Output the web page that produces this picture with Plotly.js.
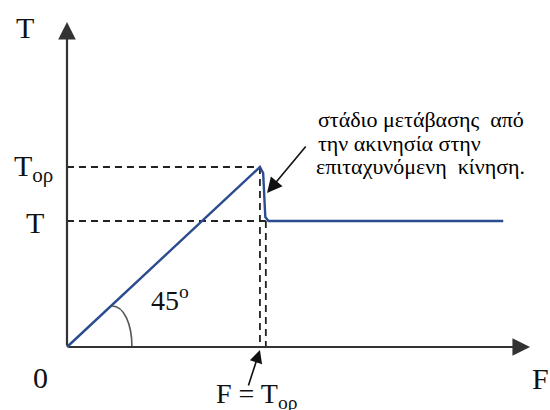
<!DOCTYPE html>
<html>
<head>
<meta charset="utf-8">
<script src="https://cdn.plot.ly/plotly-3.0.1.min.js"></script>
<style>
  html, body { margin: 0; padding: 0; background: #ffffff; }
  #chart { width: 550px; height: 410px; }
</style>
</head>
<body>
<div id="chart"></div>
<script>
// Friction force T versus applied force F
const T_op = 18;          // maximum static friction (Tορ)
const T_kin = 12.6;       // kinetic friction level (T)
const F_slip = 18.55;     // force where the kinetic regime settles

// friction curve: 45° ramp, short drop, then flat kinetic level
const F_curve = [0, 18, 18.3, 18.5, 18.8, 40.7];
const T_curve = [0, 18, 17.4, 13.0, 12.6, 12.6];

// reference labels
const axisLabels = ['T', 'F', '0'];
const levelLabels = ['T<sub>ορ</sub>', 'T'];
const forceLabel = 'F = T<sub>ορ</sub>';
const angleLabel = '45<sup>o</sup>';
const noteLines = ['στάδιο μετάβασης  από', 'την ακινησία στην', 'επιταχυνόμενη  κίνηση.'];

const W = 550, H = 410;
const serif = '"Liberation Serif", "DejaVu Serif", serif';
const px = v => v / W;
const py = v => 1 - v / H;

const dashStyle = { color: '#222222', width: 1.8, dash: '7px,5px' };

const traces = [
  // guide: Tορ horizontal
  { x: [0, T_op], y: [T_op, T_op], mode: 'lines', line: dashStyle, hoverinfo: 'skip' },
  // guide: T horizontal
  { x: [0, F_slip], y: [T_kin, T_kin], mode: 'lines', line: dashStyle, hoverinfo: 'skip' },
  // guide: vertical at F = Tορ
  { x: [T_op, T_op], y: [T_op, 0], mode: 'lines', line: dashStyle, hoverinfo: 'skip' },
  // guide: vertical where kinetic level starts
  { x: [F_slip, F_slip], y: [T_kin, 0], mode: 'lines', line: dashStyle, hoverinfo: 'skip' },
  // friction curve
  { x: F_curve, y: T_curve, mode: 'lines', line: { color: '#2b4d8f', width: 2.4 }, hoverinfo: 'skip' }
];

const textFont = (s, c) => ({ family: serif, size: s, color: c || '#111111' });

function label(text, x, y, size, xanchor, yanchor, align, color) {
  return { text, x: px(x), y: py(y), xref: 'paper', yref: 'paper', showarrow: false,
           xanchor: xanchor || 'center', yanchor: yanchor || 'middle', align: align || 'center',
           font: textFont(size, color) };
}

function arrow(x, y, ax, ay, width, size, color) {
  return { text: '', x, y, ax, ay, xref: 'x', yref: 'y', axref: 'x', ayref: 'y',
           showarrow: true, arrowhead: 2, arrowwidth: width, arrowsize: size, arrowcolor: color };
}

const annotations = [
  // axes with arrowheads
  arrow(0, 32.5, 0, 0, 2.2, 1.6, '#333333'),
  arrow(43.2, 0, 0, 0, 2.2, 1.6, '#333333'),
  // pointer to the transition region
  arrow(18.66, 15.4, 22.39, 20.2, 1.6, 1.9, '#111111'),
  // pointer to F = Tορ on the force axis
  arrow(18.0, -0.3, 16.88, -4.0, 1.6, 1.6, '#111111'),
  // axis names and origin
  label(axisLabels[0], 25, 27, 30),
  label(axisLabels[1], 540, 378, 30),
  label(axisLabels[2], 40, 377, 30),
  // level labels
  label(levelLabels[0], 33, 168, 30),
  label(levelLabels[1], 35, 222, 30),
  // force label and angle
  label(forceLabel, 257, 395, 28),
  label(angleLabel, 170, 298, 28),
  // explanatory note, one line each
  label(noteLines[0], 316, 119, 22, 'left', 'middle', 'left', '#000000'),
  label(noteLines[1], 316, 143, 22, 'left', 'middle', 'left', '#000000'),
  label(noteLines[2], 314, 166, 22, 'left', 'middle', 'left', '#000000')
];

const layout = {
  width: W, height: H, autosize: false,
  margin: { l: 0, r: 0, t: 0, b: 0, pad: 0 },
  paper_bgcolor: '#ffffff', plot_bgcolor: '#ffffff',
  showlegend: false,
  xaxis: { range: [-6.25, 45.06], visible: false, fixedrange: true },
  yaxis: { range: [-6.3, 34.7], visible: false, fixedrange: true },
  shapes: [
    // 45° angle arc at the origin
    { type: 'path', xref: 'x', yref: 'y',
      path: 'M6.06,0 C6.06,2.3 5.32,4.1 4.2,4.1',
      line: { color: '#555555', width: 1.6 } }
  ],
  annotations
};

Plotly.newPlot('chart', traces, layout, { staticPlot: true, displayModeBar: false });
</script>
</body>
</html>
